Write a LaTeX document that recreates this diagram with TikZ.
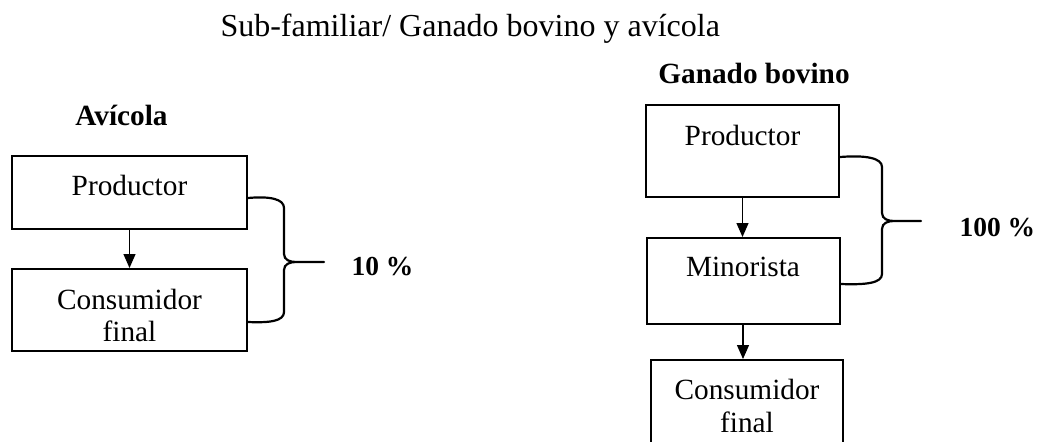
\documentclass[tikz,border=0pt]{standalone}
\usepackage{fontspec}
\setmainfont{Liberation Serif}
\usetikzlibrary{arrows.meta}
\tikzset{>={Triangle[length=14pt,width=12pt]}}

\begin{document}
\begin{tikzpicture}[x=1pt, y=-1pt]
\tikzset{caja/.style={draw, line width=2pt, align=center, inner sep=0pt, font=\fontsize{29.3}{32.5}\selectfont}}
\tikzset{titulo/.style={font=\fontsize{29.3}{32.5}\selectfont\bfseries}}
\tikzset{porcentaje/.style={font=\fontsize{27.5}{30}\selectfont\bfseries, anchor=base west}}
\tikzset{llave/.style={line width=2.2pt, line join=round, line cap=round}}
    \useasboundingbox (0,0) rectangle (1037,442);
    \clip (0,0) rectangle (1037,442);

    \node[anchor=base west, font=\fontsize{32}{36}\selectfont] (T) at (217,36) {Sub-familiar/ Ganado bovino y avícola};

    \node[titulo, anchor=base] (A) at (121.5,125) {Avícola};
    \node[caja, minimum width=235pt, minimum height=73pt, text depth=15pt] (P) at (129.5,192.5) {Productor};
    \node[caja, minimum width=235pt, minimum height=82pt, text height=63.5pt] (C) at (129.5,310) {Consumidor\\final};

    \draw[->, line width=1.3pt] (P) -- (C);

    \coordinate (Ls) at ([yshift=-5.5pt]P.east);
    \coordinate (Li) at ([yshift=-12pt]C.east);
    \coordinate (Lp) at ([shift={(76,64)}]Ls);

    \draw[llave] (Ls) .. controls +(22,-2) and +(0,-9) .. ++(36,10) -- ++(0,46)
        .. controls +(0,6) and +(-6,0) .. ++(12,8) -- (Lp)
        ++(-28,0) .. controls +(-6,0) and +(0,-6) .. ++(-12,8) -- ++(0,42)
        .. controls +(0,9) and +(22,1) .. (Li);

    \node[porcentaje] (pct) at ([shift={(24,13)}]Lp) {10 \%};
% % % % % % % % % % % % % % % % % % %
    \node[titulo, anchor=base] (G_2) at (754,83) {Ganado bovino};
    \node[caja, minimum width=193pt, minimum height=92pt, text depth=32pt] (P_2) at (742.5,151) {Productor};
    \node[caja, minimum width=193pt, minimum height=86pt, text depth=28pt] (M_2) at (743,281) {Minorista};
    \node[caja, minimum width=192pt, minimum height=92pt] (C_2) at (747,406) {Consumidor\\final};

    \draw[->, line width=1.3pt] (P_2) -- (P_2 |- M_2.north);
    \draw[->, line width=1.3pt] (M_2) -- (M_2 |- C_2.north);

    \coordinate (Ls_2) at ([yshift=-6pt]P_2.east);
    \coordinate (Li_2) at ([yshift=-3pt]M_2.east);
    \coordinate (Lp_2) at ([shift={(81,64)}]Ls_2);

    \draw[llave] (Ls_2) .. controls +(26,-2) and +(0,-9) .. ++(42,10) -- ++(0,46)
        .. controls +(0,6) and +(-6,0) .. ++(12,8) -- (Lp_2)
        ++(-27,0) .. controls +(-6,0) and +(0,-6) .. ++(-12,8) -- ++(0,45)
        .. controls +(0,9) and +(26,1) .. (Li_2);

    \node[porcentaje] (pct_2) at ([shift={(35,15)}]Lp_2) {100 \%};
\end{tikzpicture}
\end{document}
